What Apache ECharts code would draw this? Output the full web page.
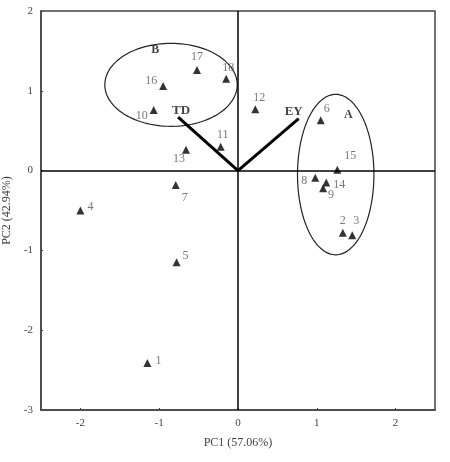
<!DOCTYPE html>
<html style="height: 100%;">
<head>
<meta charset="utf-8">
<title>PCA biplot</title>
<script type="text/javascript" src="https://cdn.jsdelivr.net/npm/echarts@6/dist/echarts.min.js"></script>
</head>
<body style="height: 100%; margin: 0">
<div id="container" style="width: 450px; height: 462px"></div>
<script type="text/javascript">
// sample scores on PC1 / PC2
var sampleNames = ['1','2','3','4','5','6','7','8','9','10','11','12','13','14','15','16','17','18'];
var pc1 = [-1.15, 1.33, 1.45, -2.00, -0.78, 1.05, -0.79, 0.98, 1.08, -1.07, -0.22, 0.22, -0.66, 1.12, 1.26, -0.95, -0.52, -0.15];
var pc2 = [-2.41, -0.78, -0.81, -0.50, -1.15, 0.63, -0.18, -0.09, -0.22, 0.76, 0.30, 0.77, 0.26, -0.15, 0.01, 1.06, 1.26, 1.15];

// loading vectors
var vectorNames = ['TD', 'EY'];
var vectorX = [-0.76, 0.77];
var vectorY = [0.67, 0.65];

// group ellipses: centre, semi-axes, label anchor
var groupNames = ['A', 'B'];
var groupCx = [1.24, -0.85];
var groupCy = [-0.05, 1.075];
var groupRx = [0.485, 0.84];
var groupRy = [1.006, 0.52];
var groupLabelX = [1.40, -1.05];
var groupLabelY = [0.70, 1.51];

var xTicks = [-2, -1, 0, 1, 2];

// label offsets (px) around each triangle
var labelOffset = {
  '1': [11, -2], '2': [0, -12], '3': [4, -14], '4': [10, -4], '5': [9, -7],
  '6': [6, -11], '7': [9, 13], '8': [-11, 3], '9': [8, 7], '10': [-12, 6],
  '11': [2, -12], '12': [4, -11], '13': [-7, 9], '14': [13, 2], '15': [13, -14],
  '16': [-12, -5], '17': [0, -13], '18': [2, -11]
};

var serif = '"Liberation Serif", "DejaVu Serif", serif';

var dom = document.getElementById('container');
var myChart = echarts.init(dom);

var points = [];
for (var i = 0; i < sampleNames.length; i++) {
  points.push({
    name: sampleNames[i],
    value: [pc1[i], pc2[i]],
    label: { offset: labelOffset[sampleNames[i]] }
  });
}

var series = [];
series.push({
  type: 'scatter',
  symbol: 'triangle',
  symbolSize: 8,
  itemStyle: { color: '#000' },
  label: {
    show: true,
    position: 'inside',
    formatter: '{b}',
    color: '#555',
    fontFamily: serif,
    fontSize: 12
  },
  data: points,
  z: 5,
  markLine: {
    silent: true,
    symbol: 'none',
    label: { show: false },
    lineStyle: { color: '#000', width: 1.5, type: 'solid' },
    data: [{ xAxis: 0 }, { yAxis: 0 }]
  }
});

// vectors
for (var v = 0; v < vectorNames.length; v++) {
  series.push({
    type: 'line',
    symbol: 'none',
    lineStyle: { color: '#000', width: 3 },
    z: 4,
    data: [[0, 0], [vectorX[v], vectorY[v]]]
  });
}

// ellipses
for (var g = 0; g < groupNames.length; g++) {
  var ring = [];
  for (var k = 0; k <= 120; k++) {
    var t = k / 120 * Math.PI * 2;
    ring.push([groupCx[g] + groupRx[g] * Math.cos(t), groupCy[g] + groupRy[g] * Math.sin(t)]);
  }
  series.push({
    type: 'line',
    symbol: 'none',
    lineStyle: { color: '#222', width: 1.2 },
    data: ring,
    z: 3
  });
}

// group letters and vector names
var tags = [];
for (var g2 = 0; g2 < groupNames.length; g2++) {
  tags.push({ name: groupNames[g2], value: [groupLabelX[g2], groupLabelY[g2]] });
}
for (var v2 = 0; v2 < vectorNames.length; v2++) {
  tags.push({
    name: vectorNames[v2],
    value: [vectorX[v2], vectorY[v2]],
    label: { offset: v2 === 0 ? [3, -6] : [-5, -7], fontSize: 13 }
  });
}
series.push({
  type: 'scatter',
  symbolSize: 0,
  z: 6,
  label: {
    show: true,
    position: 'inside',
    formatter: '{b}',
    color: '#111',
    fontWeight: 'bold',
    fontFamily: serif,
    fontSize: 12
  },
  data: tags
});

myChart.setOption({
  animation: false,
  grid: {
    left: 41, right: 15, top: 11, bottom: 52,
    outerBoundsMode: 'none',
    show: true, borderColor: '#444', borderWidth: 1.5
  },
  xAxis: {
    type: 'value',
    min: -2.5,
    max: 2.5,
    name: 'PC1 (57.06%)',
    nameLocation: 'middle',
    nameGap: 27,
    nameTextStyle: { fontFamily: serif, fontSize: 12, color: '#444' },
    axisLine: { onZero: false, lineStyle: { color: '#444', width: 1.5 } },
    axisTick: { show: true, inside: true, length: 2, customValues: xTicks, lineStyle: { color: '#444' } },
    axisLabel: { customValues: xTicks, fontFamily: serif, fontSize: 11, color: '#444', margin: 8 },
    splitLine: { show: false }
  },
  yAxis: {
    type: 'value',
    min: -3,
    max: 2,
    interval: 1,
    name: 'PC2 (42.94%)',
    nameLocation: 'middle',
    nameGap: 26,
    nameTextStyle: { fontFamily: serif, fontSize: 12, color: '#444' },
    axisLine: { onZero: false, lineStyle: { color: '#444', width: 1.5 } },
    axisTick: { show: true, inside: true, length: 2, lineStyle: { color: '#444' } },
    axisLabel: { fontFamily: serif, fontSize: 11, color: '#444', margin: 8 },
    splitLine: { show: false }
  },
  series: series
});

window.onresize = function () {
  myChart.resize();
};
</script>
</body>
</html>
